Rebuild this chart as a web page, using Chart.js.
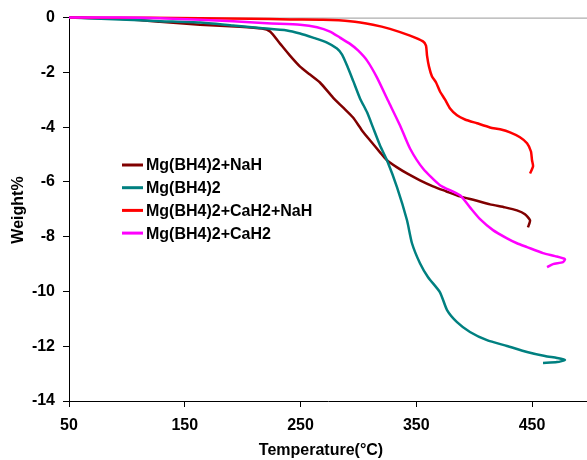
<!DOCTYPE html>
<html>
<head>
<meta charset="utf-8">
<script src="https://cdn.jsdelivr.net/npm/chart.js@4/dist/chart.umd.min.js"></script>
<style>
  html, body { margin: 0; padding: 0; background: #fff; overflow: hidden; }
  #wrap { width: 587px; height: 460px; position: relative; }
</style>
</head>
<body>
<div id="wrap"><canvas id="tga"></canvas></div>
<script>
// TGA weight-loss curves: temperature (°C) vs weight change (%)
const seriesNames = ['Mg(BH4)2+NaH', 'Mg(BH4)2', 'Mg(BH4)2+CaH2+NaH', 'Mg(BH4)2+CaH2'];
const seriesColors = ['#800000', '#008080', '#ff0000', '#ff00ff'];

const tempNaH = [50, 94.1, 128.6, 163.2, 197.7, 216.7, 223.7, 232.3, 240.9, 249.6, 258.2, 266.8, 278.1, 286.7, 295.4, 303.1, 310.0, 318.7, 324.7, 333.4, 342.0, 353.2, 364.5, 375.7, 387.8, 400.8, 413.7, 426.7, 437.0, 443.9, 448.3, 446.5];
const wtNaH   = [0, -0.04, -0.15, -0.26, -0.33, -0.40, -0.51, -0.95, -1.39, -1.79, -2.08, -2.37, -2.92, -3.28, -3.65, -4.12, -4.48, -4.92, -5.21, -5.47, -5.69, -5.94, -6.16, -6.34, -6.53, -6.67, -6.82, -6.93, -7.04, -7.18, -7.40, -7.66];

const tempPure = [50, 94.1, 128.6, 163.2, 191.7, 215.0, 238.3, 249.6, 260.8, 272.9, 281.5, 285.9, 290.2, 295.4, 301.4, 307.5, 312.6, 318.7, 324.7, 333.4, 342.0, 346.3, 353.2, 360.2, 370.5, 376.6, 385.2, 396.4, 411.1, 428.4, 445.7, 461.2, 471.6, 478.5, 471.6, 459.5];
const wtPure   = [0, -0.07, -0.13, -0.18, -0.29, -0.38, -0.47, -0.58, -0.73, -0.91, -1.13, -1.35, -1.75, -2.30, -2.95, -3.46, -4.01, -4.67, -5.21, -6.20, -7.40, -8.24, -8.97, -9.48, -10.03, -10.68, -11.12, -11.48, -11.78, -11.99, -12.21, -12.36, -12.43, -12.50, -12.58, -12.61];

const tempCaNa = [50, 120.0, 163.2, 206.4, 240.9, 269.4, 292.8, 312.6, 327.3, 344.6, 355.8, 358.4, 359.3, 361.0, 363.6, 367.1, 370.5, 374.8, 379.2, 385.2, 392.1, 402.5, 413.7, 422.4, 431.0, 439.6, 445.7, 449.1, 450.0, 450.9, 448.3];
const wtCaNa   = [0, -0.01, -0.02, -0.04, -0.07, -0.08, -0.13, -0.26, -0.41, -0.66, -0.87, -1.02, -1.39, -1.79, -2.15, -2.37, -2.70, -2.99, -3.32, -3.57, -3.72, -3.86, -4.01, -4.08, -4.19, -4.37, -4.59, -4.89, -5.21, -5.43, -5.69];

const tempCa = [50, 94.1, 128.6, 163.2, 191.7, 221.1, 249.6, 264.3, 275.5, 284.1, 292.8, 299.7, 307.5, 316.1, 325.6, 336.0, 344.6, 355.8, 370.5, 387.8, 396.4, 405.1, 416.3, 428.4, 437.0, 445.7, 459.5, 469.9, 478.5, 476.8, 468.1, 463.0];
const wtCa   = [0, 0, -0.02, -0.08, -0.13, -0.21, -0.26, -0.35, -0.51, -0.73, -0.96, -1.20, -1.57, -2.19, -3.03, -3.94, -4.78, -5.51, -6.12, -6.49, -6.93, -7.36, -7.76, -8.06, -8.24, -8.38, -8.60, -8.71, -8.82, -8.93, -9.00, -9.11];

const xTickValues = [50, 150, 250, 350, 450];
const yTickValues = [0, -2, -4, -6, -8, -10, -12, -14];

const FONT = "'Liberation Sans', Arial, sans-serif";

function zip(xs, ys) { return xs.map((x, i) => ({ x: x, y: ys[i] })); }

const allTemps = [tempNaH, tempPure, tempCaNa, tempCa];
const allWts = [wtNaH, wtPure, wtCaNa, wtCa];

const datasets = seriesNames.map((name, i) => ({
  label: name,
  data: zip(allTemps[i], allWts[i]),
  borderColor: seriesColors[i],
  backgroundColor: seriesColors[i],
  borderWidth: 2.5,
  pointRadius: 0,
  showLine: true,
  tension: 0.2,
  clip: false,
  order: 4 - i
}));

// Frame line on top of the plot, inset legend and axis titles
const decor = {
  id: 'decor',
  beforeDatasetsDraw(chart) {
    const { ctx, chartArea: a } = chart;
    ctx.save();
    ctx.strokeStyle = '#999999';
    ctx.lineWidth = 1;
    ctx.beginPath();
    ctx.moveTo(a.left, a.top + 0.5);
    ctx.lineTo(a.right, a.top + 0.5);
    ctx.stroke();
    ctx.restore();
  },
  afterDraw(chart) {
    const { ctx } = chart;
    ctx.save();
    // legend
    ctx.font = 'bold 16px ' + FONT;
    ctx.textBaseline = 'middle';
    ctx.textAlign = 'left';
    chart.data.datasets.forEach((ds, i) => {
      const y = 165 + i * 22.7;
      ctx.strokeStyle = ds.borderColor;
      ctx.lineWidth = 3;
      ctx.beginPath();
      ctx.moveTo(122, y);
      ctx.lineTo(143, y);
      ctx.stroke();
      ctx.fillStyle = '#000';
      ctx.fillText(ds.label, 146, y + 1);
    });
    // x axis title
    ctx.textAlign = 'center';
    ctx.fillText('Temperature(°C)', 321, 451);
    // y axis title
    ctx.translate(19, 210);
    ctx.rotate(-Math.PI / 2);
    ctx.fillText('Weight%', 0, 0);
    ctx.restore();
  }
};

new Chart(document.getElementById('tga'), {
  type: 'scatter',
  data: { datasets: datasets },
  options: {
    responsive: true,
    maintainAspectRatio: false,
    animation: false,
    layout: { padding: { top: 17, right: 0, bottom: 0, left: 0 } },
    plugins: { legend: { display: false }, tooltip: { enabled: false } },
    scales: {
      x: {
        type: 'linear',
        min: 50,
        max: 497.5,
        afterBuildTicks(scale) { scale.ticks = xTickValues.map(v => ({ value: v })); },
        afterFit(scale) { scale.height = 59; },
        grid: { drawOnChartArea: false, drawTicks: true, tickLength: 6, color: '#000' },
        border: { color: '#000', width: 1 },
        ticks: { color: '#000', font: { family: FONT, size: 16, weight: 'bold' }, padding: 9, maxRotation: 0, autoSkip: false }
      },
      y: {
        type: 'linear',
        min: -14,
        max: 0,
        afterBuildTicks(scale) { scale.ticks = yTickValues.map(v => ({ value: v })); },
        afterFit(scale) { scale.width = 69; },
        grid: { drawOnChartArea: false, drawTicks: true, tickLength: 6, color: '#000' },
        border: { color: '#000', width: 1 },
        ticks: { color: '#000', font: { family: FONT, size: 16, weight: 'bold' }, padding: 8, autoSkip: false }
      }
    }
  },
  plugins: [decor]
});
</script>
</body>
</html>
